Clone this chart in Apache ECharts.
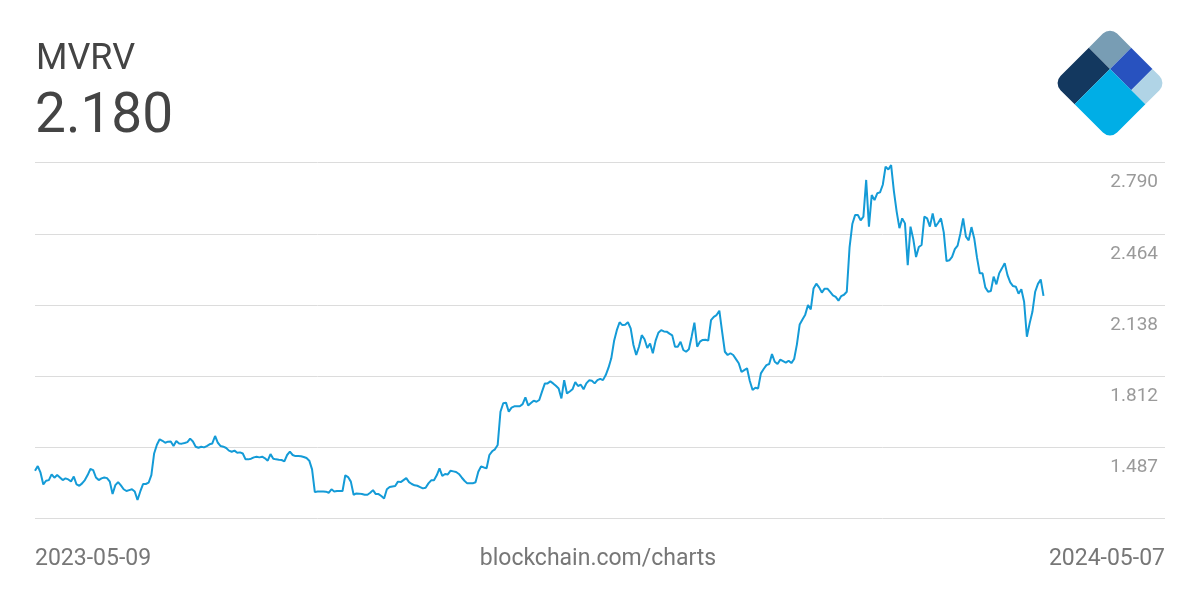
<!DOCTYPE html>
<html>
<head>
<meta charset="utf-8">
<script src="https://cdn.jsdelivr.net/npm/echarts@6/dist/echarts.min.js"></script>
<style>
html,body{margin:0;padding:0;background:#ffffff;}
#chart{width:1200px;height:600px;}
</style>
</head>
<body>
<div id="chart"></div>
<script>
// ---- data ----
const chartTitle = 'MVRV';
const startDate = '2023-05-09';
const sourceLabel = 'blockchain.com/charts';
const yTickValues = [1.161, 1.487, 1.812, 2.138, 2.464, 2.790];
const yTickLabels = ['', '1.487', '1.812', '2.138', '2.464', '2.790'];
const mvrvValues = [
 1.379,1.400,1.370,1.316,1.333,1.336,1.362,1.347,1.359,1.348,
 1.336,1.344,1.339,1.330,1.352,1.316,1.310,1.321,1.336,1.359,
 1.387,1.382,1.348,1.336,1.344,1.348,1.345,1.329,1.272,1.313,
 1.327,1.312,1.294,1.286,1.290,1.294,1.284,1.245,1.284,1.318,
 1.318,1.324,1.359,1.458,1.498,1.523,1.516,1.507,1.512,1.513,
 1.492,1.515,1.504,1.503,1.506,1.510,1.526,1.513,1.489,1.484,
 1.489,1.486,1.492,1.500,1.504,1.538,1.507,1.492,1.489,1.483,
 1.471,1.466,1.471,1.461,1.463,1.458,1.431,1.431,1.434,1.440,
 1.443,1.440,1.443,1.436,1.425,1.455,1.434,1.431,1.429,1.428,
 1.422,1.451,1.466,1.451,1.446,1.446,
 1.445,1.442,1.437,1.425,1.385,1.281,1.284,1.284,1.284,1.283,
 1.278,1.294,1.284,1.286,1.286,1.286,1.358,1.350,1.329,1.269,
 1.275,1.274,1.272,1.269,1.269,1.278,1.290,1.272,1.272,1.263,
 1.252,1.294,1.304,1.307,1.309,1.329,1.327,1.336,1.345,1.327,
 1.318,1.312,1.310,1.304,1.298,1.301,1.321,1.335,1.335,1.358,
 1.390,1.355,1.364,1.362,1.379,1.376,1.373,1.364,1.348,1.333,
 1.321,1.321,1.321,1.326,1.374,1.399,1.394,1.390,1.451,1.468,
 1.477,1.497,1.649,1.688,1.691,1.649,
 1.668,1.674,1.674,1.674,1.684,1.715,1.678,1.689,1.700,1.695,
 1.703,1.741,1.778,1.779,1.788,1.779,1.768,1.756,1.710,1.794,
 1.733,1.742,1.752,1.785,1.767,1.773,1.752,1.779,1.793,1.791,
 1.779,1.794,1.800,1.794,1.817,1.851,1.894,1.973,2.023,2.059,
 2.046,2.048,2.059,2.031,1.955,1.909,1.947,2.000,1.981,1.941,
 1.962,1.917,1.975,2.011,2.023,2.017,2.016,2.007,1.999,1.947,
 1.947,1.970,1.932,1.924,1.935,1.993,2.057,1.947,1.970,1.978,
 1.979,1.975,2.069,2.084,2.092,2.112,2.016,1.924,1.909,1.917,
 1.909,1.890,1.871,1.831,1.840,1.848,1.790,
 1.749,1.759,1.756,1.825,1.845,1.863,1.868,1.913,1.878,1.868,
 1.888,1.881,1.874,1.883,1.872,1.891,1.958,2.049,2.072,2.094,
 2.138,2.118,2.214,2.236,2.219,2.195,2.213,2.213,2.198,2.182,
 2.175,2.158,2.179,2.185,2.199,2.402,2.509,2.550,2.550,2.526,
 2.543,2.711,2.497,2.642,2.619,2.650,2.654,2.689,2.772,2.759,
 2.779,2.660,2.566,2.490,
 2.535,2.512,2.321,2.497,2.440,2.358,2.404,2.413,2.543,2.535,
 2.497,2.558,2.497,2.515,2.535,2.471,2.339,2.343,2.359,2.394,
 2.410,2.466,2.535,2.451,2.434,2.495,2.443,2.355,2.283,2.283,
 2.219,2.199,2.202,2.268,2.233,2.283,2.306,2.330,2.275,2.242,
 2.225,2.222,2.190,2.210,2.153,1.993,2.054,2.107,2.199,2.235,
 2.255,2.180
];

// daily category labels starting from startDate
const dates = [];
(function () {
  const p = startDate.split('-').map(Number);
  for (let i = 0; i < mvrvValues.length; i++) {
    dates.push(new Date(Date.UTC(p[0], p[1] - 1, p[2] + i)).toISOString().slice(0, 10));
  }
})();

const FONT = 'Roboto, "Noto Sans", sans-serif';
const yMin = yTickValues[0];
const yMax = yTickValues[yTickValues.length - 1];

const chart = echarts.init(document.getElementById('chart'), null, {renderer: 'canvas'});

function labelFor(v) {
  let best = 0, bd = Infinity;
  yTickValues.forEach(function (t, i) { const d = Math.abs(t - v); if (d < bd) { bd = d; best = i; } });
  return yTickLabels[best];
}

const L = 80, S1 = 30, S2 = 60, R = 10;
const logo = {
  type: 'group',
  x: 1110, y: 26.5,
  rotation: -Math.PI / 4,
  children: [
    {type: 'rect', shape: {x: 0, y: 0, width: S1, height: S1, r: [R, 0, 0, 0]}, style: {fill: '#789db4'}},
    {type: 'rect', shape: {x: S1, y: 0, width: S2 - S1, height: S1, r: 0}, style: {fill: '#2852bf'}},
    {type: 'rect', shape: {x: S2, y: 0, width: L - S2, height: S1, r: [0, R, 0, 0]}, style: {fill: '#b0d4e6'}},
    {type: 'rect', shape: {x: 0, y: S1, width: S1, height: L - S1, r: [0, 0, 0, R]}, style: {fill: '#13385f'}},
    {type: 'rect', shape: {x: S1, y: S1, width: L - S1, height: L - S1, r: [0, 0, R, 0]}, style: {fill: '#00aee6'}}
  ]
};

const option = {
  backgroundColor: '#ffffff',
  animation: false,
  grid: [
    {left: 35, right: 156.5, top: 162.7, bottom: 81.7, containLabel: false},
    {left: 35, right: 35, top: 162.7, bottom: 81.7, containLabel: false}
  ],
  xAxis: [
    {type: 'category', gridIndex: 0, data: dates, boundaryGap: false, show: false},
    {type: 'value', gridIndex: 1, min: 0, max: 1, show: false}
  ],
  yAxis: [
    {type: 'value', gridIndex: 0, min: yMin, max: yMax, show: false, splitLine: {show: false}},
    {
      type: 'value', gridIndex: 1, min: yMin, max: yMax, position: 'right',
      axisLine: {show: false},
      axisTick: {show: false, customValues: yTickValues},
      splitLine: {show: true, lineStyle: {color: '#dcdcdc', width: 1}},
      axisLabel: {
        inside: true, margin: 7, align: 'right',
        customValues: yTickValues.slice(1),
        formatter: function (v) { return labelFor(v); },
        color: '#9a9a9a', fontSize: 19, fontFamily: FONT,
        verticalAlign: 'top', lineHeight: 20, padding: [10, 0, 0, 0]
      }
    }
  ],
  series: [{
    type: 'line',
    name: chartTitle,
    xAxisIndex: 0, yAxisIndex: 0,
    data: mvrvValues,
    showSymbol: false,
    symbol: 'none',
    lineStyle: {color: '#149bd7', width: 2},
    itemStyle: {color: '#149bd7'}
  }],
  graphic: [
    {type: 'text', x: 36, y: 60, style: {text: chartTitle, fill: '#444444', font: '36px ' + FONT, textAlign: 'left', textVerticalAlign: 'middle'}},
    {type: 'text', x: 35, y: 118, style: {text: mvrvValues[mvrvValues.length - 1].toFixed(3), fill: '#444444', font: '55px ' + FONT, textAlign: 'left', textVerticalAlign: 'middle'}},
    {type: 'text', x: 35, y: 559, style: {text: dates[0], fill: '#777777', font: '23px ' + FONT, textAlign: 'left', textVerticalAlign: 'middle'}},
    {type: 'text', x: 598, y: 559, style: {text: sourceLabel, fill: '#777777', font: '23px ' + FONT, textAlign: 'center', textVerticalAlign: 'middle'}},
    {type: 'text', x: 1165, y: 559, style: {text: dates[dates.length - 1], fill: '#777777', font: '23px ' + FONT, textAlign: 'right', textVerticalAlign: 'middle'}},
    logo
  ]
};
chart.setOption(option);
</script>
</body>
</html>
